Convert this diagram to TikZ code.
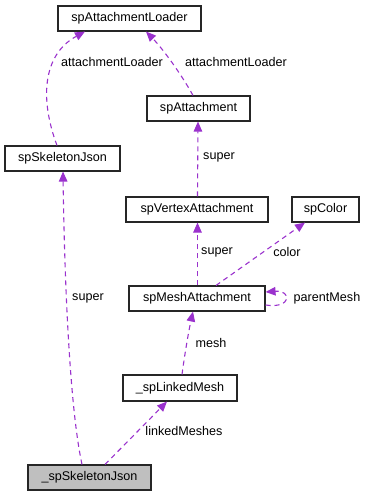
\documentclass[tikz,border=0pt]{standalone}
\usepackage{fontspec}
\setmainfont{Liberation Sans}
\usetikzlibrary{arrows.meta,calc}
\definecolor{edgepurple}{HTML}{9A32CD}
\definecolor{boxgray}{HTML}{BFBFBF}
\begin{document}
\begin{tikzpicture}[x=1pt,y=1pt,
  font=\fontsize{12.6}{15}\selectfont,
  cls/.style={draw=black!85,line width=1.1pt,fill=white,minimum height=25pt,inner sep=0pt},
  rel/.style={draw=edgepurple,line width=1.1pt,dash pattern=on 5pt off 4pt,
    -{Triangle[length=10pt,width=8.5pt,fill=edgepurple]}},
  lbl/.style={inner sep=0pt,text=black}]
\useasboundingbox (0,0) rectangle (367,-496);

% classes
\node[cls,minimum width=143pt] (loader) at (129.5,-18.5) {spAttachmentLoader};
\node[cls,minimum width=103pt] (att) at (198.5,-108.5) {spAttachment};
\node[cls,minimum width=115pt] (skj) at (62.5,-158.5) {spSkeletonJson};
\node[cls,minimum width=142pt] (vert) at (197,-209.5) {spVertexAttachment};
\node[cls,minimum width=67pt] (color) at (325.5,-209.5) {spColor};
\node[cls,minimum width=136pt] (mesh) at (197,-298.5) {spMeshAttachment};
\node[cls,minimum width=114pt,minimum height=26pt] (linked) at (180,-388) {\_spLinkedMesh};
\node[cls,minimum width=123pt,fill=boxgray] (skjs) at (89.5,-477.5) {\_spSkeletonJson};

% relations
\draw[rel] ($(skj.north)+(-5.5,0)$) .. controls (40,-100) and (42,-55) .. ($(loader.south)+(-44.5,0)$);
\draw[rel] ($(att.north)+(-5.5,0)$) .. controls (180,-72) and (162,-48) .. ($(loader.south)+(16.5,0)$);
\draw[rel] ($(vert.north)+(0.5,0)$) -- ($(att.south)+(-0.5,0)$);
\draw[rel] ($(mesh.north)+(0.5,0)$) -- ($(vert.south)+(0.5,0)$);
\draw[rel] ($(mesh.north)+(19,0)$) -- ($(color.south)+(-20.5,0)$);
\draw[rel] ($(mesh.east)+(0,-6.5)$) .. controls (292,-309) and (292,-290) .. ($(mesh.east)+(0,6.5)$);
\draw[rel] ($(linked.north)+(2,0)$) .. controls (186,-345) and (190,-325) .. ($(mesh.south)+(-4,0)$);
\draw[rel] ($(skjs.north)+(15.5,0)$) -- ($(linked.south)+(-13,0)$);
\draw[rel] ($(skjs.north)+(-7.5,0)$) .. controls (68,-400) and (64,-250) .. ($(skj.south)+(0.5,0)$);

% labels
\node[lbl] (l1) at (112,-62) {attachmentLoader};
\node[lbl] (l2) at (236,-62) {attachmentLoader};
\node[lbl] (l3) at (219,-157) {super};
\node[lbl] (l4) at (217,-252) {super};
\node[lbl] (l5) at (287,-252) {color};
\node[lbl] (l6) at (327,-298) {parentMesh};
\node[lbl] (l7) at (88,-298) {super};
\node[lbl] (l8) at (211,-343) {mesh};
\node[lbl] (l9) at (184,-431) {linkedMeshes};
\end{tikzpicture}
\end{document}
